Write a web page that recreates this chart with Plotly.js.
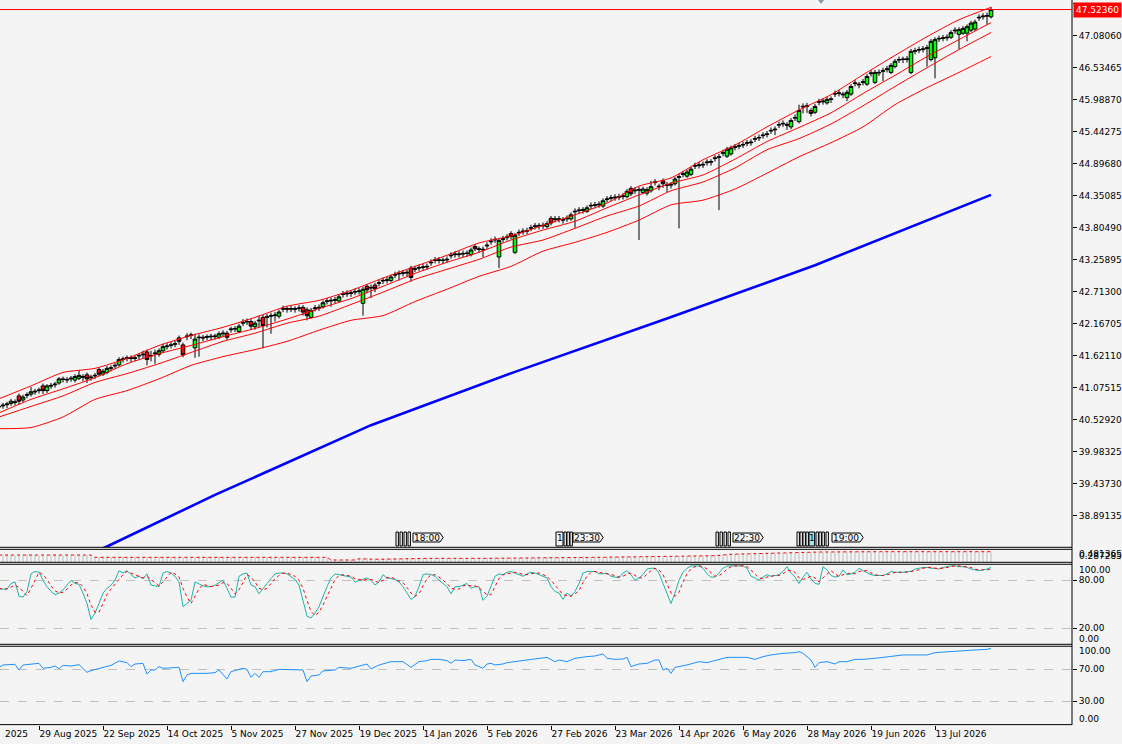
<!DOCTYPE html>
<html><head><meta charset="utf-8">
<script src="https://cdn.plot.ly/plotly-3.0.1.min.js"></script>
<style>html,body{margin:0;padding:0;background:#f4f4f4;} #chart{width:1122px;height:744px;}</style>
</head><body><div id="chart"></div>
<script>
const tickDates = ["29 Aug 2025","22 Sep 2025","14 Oct 2025","5 Nov 2025","27 Nov 2025","19 Dec 2025","14 Jan 2026","5 Feb 2026","27 Feb 2026","23 Mar 2026","14 Apr 2026","6 May 2026","28 May 2026","19 Jun 2026","13 Jul 2026"];
const tickBars = [10,26,42,58,74,90,106,122,138,154,170,186,202,218,234];
const priceTicks = [47.62655,47.08060,46.53465,45.98870,45.44275,44.89680,44.35085,43.80490,43.25895,42.71300,42.16705,41.62110,41.07515,40.52920,39.98325,39.43730,38.89135];

const open = [
40.74,40.76,40.78,40.80,40.83,40.93,40.86,40.94,40.96,41.01,
41.02,41.10,41.02,41.11,41.12,41.15,41.22,41.20,41.22,41.20,
41.23,41.26,41.29,41.24,41.27,41.38,41.30,41.33,41.40,41.44,
41.46,41.55,41.57,41.58,41.57,41.61,41.63,41.68,41.61,41.65,
41.64,41.70,41.77,41.79,41.81,41.92,41.80,41.94,41.96,41.75,
41.92,41.93,41.93,41.95,41.94,41.93,41.99,42.00,42.06,42.07,
42.03,42.17,42.19,42.20,42.11,42.21,42.27,42.27,42.29,42.30,
42.29,42.41,42.42,42.41,42.42,42.42,42.44,42.40,42.27,42.42,
42.43,42.45,42.54,42.55,42.56,42.55,42.66,42.67,42.69,42.70,
42.71,42.51,42.80,42.77,42.82,42.85,42.89,42.90,42.90,42.99,
43.01,43.02,43.04,43.11,43.09,43.11,43.12,43.13,43.20,43.24,
43.24,43.25,43.25,43.32,43.34,43.34,43.35,43.37,43.34,43.48,
43.44,43.42,43.49,43.56,43.59,43.30,43.60,43.63,43.70,43.38,
43.71,43.73,43.74,43.79,43.82,43.84,43.83,43.82,43.96,43.94,
43.94,43.94,43.95,43.95,44.07,44.09,44.11,44.08,44.17,44.18,
44.19,44.17,44.28,44.30,44.31,44.32,44.33,44.33,44.47,44.43,
44.44,44.40,44.39,44.43,44.57,44.51,44.60,44.52,44.54,44.55,
44.66,44.71,44.68,44.71,44.85,44.86,44.87,44.91,44.93,44.98,
45.00,45.07,45.02,45.06,45.17,45.19,45.21,45.24,45.25,45.31,
45.33,45.37,45.39,45.45,45.47,45.55,45.57,45.56,45.52,45.67,
45.61,45.86,45.87,45.80,45.77,45.94,45.95,45.93,46.00,46.08,
46.09,46.08,46.02,46.08,46.26,46.25,46.28,46.25,46.43,46.28,
46.44,46.47,46.50,46.45,46.55,46.66,46.68,46.67,46.45,46.81,
46.83,46.84,46.86,46.67,46.70,47.02,47.03,47.04,47.05,47.16,
47.10,47.12,47.12,47.17,47.19,47.38,47.40,47.41,47.40];
const high = [
40.79,40.81,40.83,40.88,40.87,40.97,40.95,40.99,41.08,41.05,
41.07,41.14,41.13,41.15,41.17,41.25,41.26,41.25,41.27,41.30,
41.37,41.30,41.33,41.29,41.32,41.41,41.39,41.44,41.45,41.49,
41.59,41.60,41.62,41.62,41.62,41.66,41.70,41.72,41.70,41.72,
41.74,41.82,41.83,41.85,41.87,41.96,41.84,42.00,42.01,41.99,
41.98,41.97,41.98,41.99,41.99,42.03,42.05,42.04,42.11,42.12,
42.16,42.24,42.25,42.24,42.21,42.30,42.31,42.33,42.35,42.36,
42.40,42.47,42.46,42.47,42.46,42.48,42.48,42.44,42.43,42.48,
42.49,42.56,42.60,42.61,42.62,42.66,42.72,42.73,42.73,42.76,
42.77,42.79,42.84,42.83,42.86,42.91,42.95,42.96,43.00,43.05,
43.07,43.08,43.08,43.15,43.15,43.17,43.18,43.19,43.26,43.30,
43.30,43.29,43.31,43.38,43.40,43.40,43.41,43.41,43.46,43.52,
43.48,43.48,43.55,43.62,43.65,43.62,43.66,43.69,43.74,43.71,
43.77,43.79,43.80,43.85,43.88,43.88,43.89,43.91,44.00,44.00,
44.00,43.98,44.01,44.06,44.13,44.15,44.15,44.18,44.23,44.24,
44.25,44.30,44.34,44.36,44.37,44.38,44.39,44.46,44.51,44.49,
44.50,44.50,44.49,44.60,44.63,44.55,44.64,44.58,44.58,44.67,
44.72,44.77,44.79,44.84,44.91,44.92,44.93,44.97,44.97,45.04,
45.06,45.13,45.18,45.20,45.23,45.25,45.27,45.30,45.31,45.37,
45.39,45.43,45.45,45.51,45.53,45.61,45.63,45.60,45.67,45.73,
45.90,45.92,45.93,45.84,45.91,46.00,46.01,46.03,46.04,46.14,
46.15,46.12,46.15,46.25,46.32,46.29,46.34,46.42,46.49,46.49,
46.50,46.53,46.56,46.61,46.68,46.72,46.72,46.73,46.85,46.87,
46.89,46.90,46.92,47.02,47.05,47.08,47.09,47.10,47.17,47.22,
47.22,47.24,47.27,47.33,47.35,47.44,47.46,47.47,47.57];
const low = [
40.69,40.71,40.72,40.76,40.77,40.78,40.82,40.89,40.92,40.95,
40.97,40.96,40.98,41.05,41.07,41.12,41.16,41.15,41.17,41.16,
41.20,41.18,41.15,41.19,41.22,41.26,41.27,41.30,41.35,41.39,
41.43,41.50,41.52,41.51,41.52,41.55,41.57,41.45,41.52,41.48,
41.60,41.66,41.72,41.74,41.76,41.80,41.59,41.88,41.90,41.58,
41.60,41.86,41.88,41.88,41.89,41.90,41.94,41.88,42.01,42.02,
42.00,42.12,42.14,42.06,42.06,42.10,41.74,42.10,41.99,42.20,
42.25,42.36,42.35,42.36,42.35,42.37,42.30,42.22,42.25,42.37,
42.38,42.42,42.49,42.45,42.51,42.52,42.61,42.62,42.62,42.65,
42.66,42.30,42.68,42.60,42.70,42.80,42.84,42.85,42.87,42.94,
42.90,42.97,42.97,42.88,43.04,43.06,43.07,43.08,43.15,43.19,
43.19,43.18,43.20,43.27,43.29,43.29,43.30,43.30,43.31,43.40,
43.37,43.30,43.44,43.51,43.54,43.11,43.55,43.58,43.60,43.35,
43.66,43.68,43.69,43.74,43.77,43.77,43.78,43.79,43.84,43.89,
43.89,43.87,43.90,43.92,43.80,44.04,44.04,44.05,44.12,44.13,
44.14,44.14,44.23,44.25,44.26,44.27,44.28,44.30,44.34,44.38,
43.59,44.37,44.35,44.40,44.52,44.44,44.48,44.41,44.47,44.52,
43.79,44.66,44.65,44.68,44.80,44.81,44.82,44.86,44.86,44.93,
44.10,45.02,44.99,45.03,45.12,45.14,45.16,45.19,45.20,45.26,
45.28,45.32,45.34,45.40,45.38,45.50,45.52,45.47,45.48,45.62,
45.58,45.75,45.76,45.70,45.74,45.89,45.90,45.90,45.93,46.03,
46.04,46.01,45.96,46.05,46.21,46.18,46.23,46.22,46.38,46.25,
46.39,46.30,46.45,46.42,46.52,46.61,46.61,46.62,46.42,46.76,
46.78,46.79,46.55,46.64,46.35,46.97,46.98,46.99,47.02,47.11,
46.85,47.09,46.98,47.14,47.16,47.33,47.35,47.27,47.37];
const close = [
40.75,40.77,40.79,40.84,40.82,40.84,40.91,40.95,41.00,41.00,
41.03,41.02,41.10,41.10,41.13,41.22,41.21,41.21,41.23,41.26,
41.28,41.25,41.22,41.25,41.28,41.30,41.35,41.40,41.41,41.45,
41.55,41.56,41.58,41.57,41.58,41.62,41.64,41.55,41.62,41.66,
41.70,41.77,41.78,41.80,41.82,41.86,41.63,41.95,41.97,41.90,
41.93,41.92,41.94,41.94,41.95,41.99,42.00,41.93,42.07,42.08,
42.12,42.18,42.20,42.12,42.17,42.22,42.13,42.28,42.30,42.31,
42.36,42.42,42.41,42.42,42.41,42.43,42.36,42.30,42.39,42.43,
42.44,42.52,42.55,42.56,42.57,42.62,42.67,42.68,42.68,42.71,
42.72,42.75,42.74,42.78,42.76,42.86,42.90,42.91,42.96,43.00,
43.02,43.03,43.03,42.95,43.10,43.12,43.13,43.14,43.21,43.25,
43.25,43.24,43.26,43.33,43.35,43.35,43.36,43.36,43.42,43.44,
43.43,43.43,43.50,43.57,43.60,43.58,43.61,43.64,43.65,43.67,
43.72,43.74,43.75,43.80,43.83,43.83,43.84,43.87,43.88,43.95,
43.95,43.93,43.96,44.02,44.08,44.10,44.10,44.14,44.18,44.19,
44.20,44.26,44.29,44.31,44.32,44.33,44.34,44.42,44.38,44.44,
44.45,44.46,44.45,44.50,44.58,44.50,44.55,44.53,44.53,44.63,
44.67,44.72,44.75,44.80,44.86,44.87,44.88,44.92,44.92,44.99,
45.01,45.08,45.14,45.16,45.18,45.20,45.22,45.25,45.26,45.32,
45.34,45.38,45.40,45.46,45.48,45.56,45.58,45.55,45.63,45.68,
45.80,45.87,45.88,45.75,45.87,45.95,45.96,45.99,45.99,46.09,
46.10,46.07,46.11,46.21,46.27,46.24,46.29,46.38,46.44,46.45,
46.45,46.48,46.51,46.57,46.64,46.67,46.67,46.68,46.81,46.82,
46.84,46.85,46.87,46.98,47.01,47.03,47.04,47.05,47.13,47.17,
47.18,47.20,47.23,47.29,47.31,47.39,47.41,47.42,47.5236];

const bandIdx = [0,8,16,24,32,40,48,56,64,72,80,88,96,104,112,120,128,136,144,152,160,168,176,184,192,200,208,216,224,232,240,248];
const bandUpper = [40.88,41.10,41.33,41.40,41.57,41.79,41.96,42.10,42.27,42.46,42.56,42.73,42.94,43.14,43.33,43.54,43.66,43.84,44.02,44.22,44.51,44.65,44.96,45.21,45.52,45.81,46.07,46.41,46.74,47.06,47.35,47.56];
const bandMid = [40.64,40.87,41.05,41.24,41.48,41.65,41.79,41.94,42.08,42.24,42.42,42.59,42.80,43.02,43.21,43.38,43.59,43.76,43.91,44.14,44.36,44.56,44.70,44.97,45.27,45.51,45.76,46.09,46.40,46.72,47.01,47.30];
const bandLower = [40.57,40.75,40.93,41.16,41.31,41.48,41.67,41.86,42.00,42.17,42.29,42.49,42.70,42.92,43.09,43.26,43.47,43.59,43.79,44.00,44.17,44.43,44.58,44.82,45.13,45.32,45.57,45.88,46.21,46.53,46.84,47.13];
const maSlow = [40.37,40.39,40.57,40.87,41.02,41.22,41.45,41.60,41.72,41.86,42.05,42.22,42.30,42.54,42.75,42.97,43.14,43.40,43.55,43.72,43.93,44.19,44.27,44.46,44.73,45.01,45.25,45.52,45.90,46.19,46.45,46.72];

const maLongIdx = [0,27,54,93,129,167,204,248];
const maLongVal = [37.52,38.36,39.24,40.43,41.34,42.25,43.16,44.36];

const histVals = [
0.40,0.40,0.41,0.40,0.39,0.40,0.40,0.41,0.40,0.40,0.39,0.40,0.40,0.40,0.41,0.40,0.39,0.40,0.40,0.40,0.40,0.39,0.40,0.39,
0.37,0.36,0.37,0.37,0.36,0.37,0.37,0.37,0.36,0.37,0.37,0.36,0.37,0.37,0.37,0.36,0.37,0.37,0.36,0.37,
0.37,0.37,0.36,0.37,0.37,0.36,0.37,0.37,0.37,0.36,0.37,0.37,0.36,0.37,0.37,0.37,0.36,0.37,0.37,0.36,
0.37,0.37,0.37,0.36,0.37,0.37,0.36,0.37,0.37,0.37,0.36,0.37,0.37,0.36,0.37,0.37,0.37,0.36,0.37,
0.33,0.33,0.32,0.33,0.33,0.32,0.33,
0.35,0.34,0.35,0.34,0.34,0.34,0.35,0.35,0.35,0.35,0.35,0.35,0.35,0.36,0.35,0.35,0.35,0.35,0.35,0.35,
0.35,0.36,0.35,0.35,0.35,0.35,0.35,0.35,0.36,0.35,0.35,0.35,0.35,0.35,0.36,0.35,
0.36,0.36,0.36,0.35,0.36,0.36,0.36,0.36,0.36,0.37,0.36,0.36,0.36,0.36,0.36,0.37,0.36,0.36,0.36,0.36,0.37,0.36,0.36,0.37,0.37,
0.37,0.37,0.37,0.37,0.37,0.38,0.37,0.37,0.37,0.37,0.37,0.37,0.38,0.37,0.37,0.37,0.38,0.37,0.38,0.38,
0.38,0.38,0.39,0.39,0.39,0.39,0.39,0.40,0.40,0.40,0.41,0.41,
0.42,0.42,0.42,0.42,0.42,0.43,0.43,0.43,0.43,0.43,0.43,0.43,0.43,0.43,0.43,0.43,0.43,0.44,0.44,0.44,0.44,0.44,
0.45,0.45,0.45,0.44,0.45,0.45,0.45,0.45,0.46,0.45,0.45,0.45,0.45,0.45,0.45,0.44,0.45,0.45,0.45,0.45,
0.45,0.45,0.46,0.45,0.45,0.45,0.45,0.45,0.45,0.45,0.44,0.45,0.45,0.45,0.45,0.45,0.45,0.46,0.45,0.45,0.45,0.45,0.45,0.45];
const histLineIdx = [0,23,24,82,83,89,90,95,108,123,150,170,174,179,183,189,200,205,220,248];
const histLineVal = [0.396,0.396,0.362,0.362,0.322,0.322,0.34,0.332,0.347,0.347,0.362,0.371,0.381,0.386,0.407,0.416,0.426,0.441,0.446,0.446];

const stochMain = [
69,69,69,76,78,60,59,66,88,91, 90,80,72,66,62,64,68,74,80,76,
75,64,51,31,39,51,64,70,74,80, 92,89,92,87,83,85,82,88,74,73,
72,89,91,89,85,78,47,51,55,78, 75,73,72,72,74,77,80,70,59,59,
85,88,89,74,72,63,70,76,82,88, 89,89,88,85,81,74,55,35,33,39,
47,60,72,83,88,87,86,85,84,78, 80,81,83,80,74,78,87,83,82,81,
78,72,64,56,60,72,87,88,87,85, 80,76,72,63,72,72,74,76,70,72,
72,55,60,72,85,88,87,90,91,89, 87,85,88,90,89,87,85,83,72,66,
64,56,64,60,66,76,89,91,91,91, 88,88,89,85,84,83,89,92,87,80,
83,87,94,95,95,89,76,64,51,64, 80,90,95,98,98,98,95,88,84,84,
89,95,98,98,98,98,98,95,85,83, 80,84,87,85,86,87,91,97,89,84,
76,84,90,82,76,75,97,93,86,84, 85,93,87,88,90,95,92,89,87,86,
86,86,88,91,90,90,90,91,91,94, 95,96,96,95,95,94,96,97,98,98,
97,97,96,94,93,92,93,94,96];
const stochSignal = [
70,69,69,71,74,71,66,61,70,81, 90,87,81,73,67,64,65,69,74,77,
77,72,63,49,40,40,51,62,69,75, 82,87,91,89,87,85,83,85,81,78,
73,78,84,90,88,84,70,59,51,61, 69,75,73,72,73,74,77,76,70,63,
68,77,87,84,78,70,68,70,76,82, 86,89,89,87,85,80,70,55,41,36,
40,49,60,72,81,86,87,86,85,82, 81,80,81,81,79,77,80,83,84,82,
80,77,71,64,60,63,73,82,87,87, 84,80,76,70,69,69,73,74,73,73,
71,66,62,62,72,82,87,88,89,90, 89,87,87,88,89,89,87,85,80,74,
67,62,61,60,63,67,77,85,90,91, 90,89,88,87,86,84,85,88,89,86,
83,83,88,92,95,93,87,76,64,60, 65,78,88,94,97,98,97,94,89,85,
86,89,94,97,98,98,98,97,93,88, 83,82,84,85,86,86,88,92,92,90,
83,81,83,85,83,78,83,88,92,88, 85,87,88,89,88,91,92,92,89,87,
86,86,87,88,90,90,90,90,91,92, 93,95,96,96,95,95,95,96,97,98,
98,97,97,96,94,93,93,93,94];

const rsiPoints = [[0,72.4],[1,75.4],[4,76.2],[5,69.1],[6,75.4],[9,76.2],[10,77.4],[11,71.2],[13,72.4],[14,74.1],[15,70.8],[16,74.9],[18,74.1],[20,75.8],[22,66.2],[23,68.3],[25,71.2],[28,74.9],[30,80.4],[32,78.3],[33,73.3],[34,76.6],[36,77.4],[37,64.1],[38,69.1],[39,69.1],[40,73.3],[41,71.2],[45,72.4],[46,54.5],[47,62.9],[48,64.9],[52,64.9],[54,65.8],[55,69.1],[57,57.9],[58,67],[61,71.2],[62,69.9],[63,59.9],[64,64.9],[65,59.9],[66,67],[68,67],[70,69.9],[73,69.1],[76,69.1],[77,54.5],[78,61.6],[80,62.9],[81,67.9],[84,69.1],[85,72.4],[88,71.2],[90,74.1],[92,76.6],[93,70.4],[95,75.4],[98,79.5],[101,79.5],[103,72.4],[105,79.5],[107,80.8],[108,82.4],[110,82.4],[112,80.8],[113,77.4],[114,81.6],[116,80.8],[118,82.4],[119,75.4],[121,71.2],[122,76.6],[123,77.4],[124,75.4],[126,76.6],[127,78.3],[129,79.5],[132,81.6],[135,83.7],[137,84.9],[139,79.5],[140,81.6],[142,79.5],[144,83.7],[147,85.8],[149,86.6],[151,89.1],[152,83.7],[154,82.4],[156,82.8],[157,84.9],[158,73.3],[160,76.6],[162,77.4],[164,81.6],[165,81.6],[166,69.1],[167,71.2],[168,64.9],[169,72.4],[172,75.4],[175,79.5],[177,78.3],[180,82.8],[182,84.9],[185,84.9],[187,84.9],[189,82.4],[191,85.8],[193,87.9],[196,89.9],[199,90.8],[200,92.0],[201,89.9],[203,81.6],[204,72.4],[205,78.3],[207,79.5],[209,76.6],[210,79.5],[212,79.5],[214,82.4],[216,82.4],[219,83.7],[222,85.8],[226,87.9],[229,87.9],[232,87.9],[234,90.8],[237,92.0],[241,93.3],[244,94.1],[247,94.9],[248,96.2]];

const events = [
  {marks:[99.25,100.25,101.25,102.25], ones:[], label:"18:00", l0:103.5, l1:110.25},
  {marks:[141.25,142.0,142.75], ones:[{x0:139.25,x1:141.0,hl:false}], label:"23:30", l0:143.5, l1:150.25},
  {marks:[179.25,180.25,181.25,182.25], ones:[], label:"22:30", l0:183.5, l1:190.25},
  {marks:[199.5,200.25,201.0,201.75,204.25,205.0,205.75,206.75], ones:[{x0:202.5,x1:203.9,hl:true}], label:"19:00", l0:208.25, l1:215.25}
];

const bars = close.map((_, i) => i);
const lastPrice = close[close.length - 1];
const FONT = 'DejaVu Sans, Liberation Sans, sans-serif';

const traces = [
  {type:'bar', x:bars, y:histVals, xaxis:'x', yaxis:'y2', width:0.3, marker:{color:'#c4c4c4', line:{width:0}}, hoverinfo:'skip'},
  {type:'scatter', mode:'lines', x:histLineIdx, y:histLineVal, xaxis:'x', yaxis:'y2', line:{color:'#ff0000', width:1, dash:'3px,3px'}},
  {type:'scatter', mode:'lines', x:bars, y:stochMain, xaxis:'x', yaxis:'y3', line:{color:'#20b2aa', width:1}},
  {type:'scatter', mode:'lines', x:bars, y:stochSignal, xaxis:'x', yaxis:'y3', line:{color:'#ff0000', width:1, dash:'3px,3px'}},
  {type:'scatter', mode:'lines', x:rsiPoints.map(p=>p[0]), y:rsiPoints.map(p=>p[1]), xaxis:'x', yaxis:'y4', line:{color:'#1e90ff', width:1}},
  {type:'scatter', mode:'lines', x:maLongIdx, y:maLongVal, xaxis:'x', yaxis:'y', line:{color:'#0000ff', width:2.6}},
  {type:'scatter', mode:'lines', x:bandIdx, y:maSlow, xaxis:'x', yaxis:'y', line:{color:'#ff0000', width:1, shape:'spline', smoothing:0.6}},
  {type:'scatter', mode:'lines', x:bandIdx, y:bandLower, xaxis:'x', yaxis:'y', line:{color:'#ff0000', width:1, shape:'spline', smoothing:0.6}},
  {type:'scatter', mode:'lines', x:bandIdx, y:bandMid, xaxis:'x', yaxis:'y', line:{color:'#ff0000', width:1, shape:'spline', smoothing:0.6}},
  {type:'scatter', mode:'lines', x:bandIdx, y:bandUpper, xaxis:'x', yaxis:'y', line:{color:'#ff0000', width:1, shape:'spline', smoothing:0.6}},
  {type:'candlestick', x:bars, open:open, high:high, low:low, close:close, xaxis:'x', yaxis:'y', whiskerwidth:0,
   increasing:{line:{color:'#000000', width:1}, fillcolor:'#00ff00'},
   decreasing:{line:{color:'#000000', width:1}, fillcolor:'#ff0000'}}
];

const sepY = [0.2451, 0.2423, 0.2244, 0.2217, 0.1113, 0.1086, 0.0005];
const shapes = sepY.map(y => ({type:'line', xref:'paper', yref:'paper', x0:0, x1:1, y0:y, y1:y, line:{color:'#000', width:1}}));
shapes.push({type:'line', xref:'paper', yref:'paper', x0:1, x1:1, y0:0, y1:1, line:{color:'#000', width:1}});
shapes.push({type:'line', xref:'paper', yref:'y', x0:0, x1:1, y0:lastPrice, y1:lastPrice, line:{color:'#ff0000', width:1}});
shapes.push({type:'path', xref:'paper', yref:'paper', path:'M 0.7631 1 L 0.7687 1 L 0.7659 0.9945 Z', fillcolor:'#8a9aae', line:{width:0}});

const annotations = [];
const evY0 = 0.2469, evY1 = 0.2662, lbY0 = 0.2524, lbY1 = 0.2648, lbYm = 0.2586;
events.forEach(ev => {
  ev.marks.forEach(m => shapes.push({type:'rect', xref:'x', yref:'paper', x0:m, x1:m+0.6, y0:evY0, y1:evY1, fillcolor:'#f4f4f4', line:{color:'#000', width:1}}));
  ev.ones.forEach(o => {
    shapes.push({type:'rect', xref:'x', yref:'paper', x0:o.x0, x1:o.x1, y0:evY0, y1:evY1, fillcolor:o.hl ? '#a8e4ec' : '#f4f4f4', line:{color:'#000', width:1}});
    annotations.push({x:(o.x0+o.x1)/2, xref:'x', xanchor:'center', y:lbYm, yref:'paper', yanchor:'middle', text:'1', showarrow:false, font:{family:FONT, size:9, color:'#000'}});
  });
  shapes.push({type:'path', xref:'x', yref:'paper', path:`M ${ev.l0},${lbY0} L ${ev.l1},${lbY0} L ${ev.l1+0.8},${lbYm} L ${ev.l1},${lbY1} L ${ev.l0},${lbY1} Z`, fillcolor:'#f4f4f4', line:{color:'#000', width:1}});
  annotations.push({x:(ev.l0+ev.l1)/2, xref:'x', xanchor:'center', y:lbYm, yref:'paper', yanchor:'middle', text:ev.label, showarrow:false, font:{family:FONT, size:9, color:'#000'}});
});

annotations.push({x:1, xref:'paper', xanchor:'left', xshift:1, y:lastPrice, yref:'y', yanchor:'middle', text:lastPrice.toFixed(5), showarrow:false, bgcolor:'#ff0000', font:{family:FONT, size:9, color:'#ffffff'}, borderpad:2});
function pxY(p){ return 1 - p/725; }
[['0.481365',554.2],['0.287285',555.6],['100.00',570],['0.00',638.7],['100.00',651],['0.00',718.7]].forEach(a => {
  annotations.push({x:1, xref:'paper', xanchor:'left', xshift:5, y:pxY(a[1]), yref:'paper', yanchor:'middle', text:a[0], showarrow:false, font:{family:FONT, size:9, color:'#000'}});
});
annotations.push({x:0, xref:'paper', xanchor:'left', xshift:3, y:pxY(734), yref:'paper', yanchor:'middle', text:'2025', showarrow:false, font:{family:FONT, size:9, color:'#000'}});

const layout = {
  width:1122, height:744,
  margin:{l:0, r:50, t:0, b:19, pad:0},
  paper_bgcolor:'#f4f4f4', plot_bgcolor:'#f4f4f4',
  showlegend:false, dragmode:false,
  font:{family:FONT, size:9, color:'#000'},
  xaxis:{domain:[0,1], anchor:'y4', range:[0.25,268.25], tickvals:tickBars, ticktext:tickDates, tickangle:0, ticks:'outside', ticklen:4, tickcolor:'#000', ticklabelposition:'outside right', showgrid:false, zeroline:false, showline:false, rangeslider:{visible:false}, tickfont:{family:FONT, size:9}},
  yaxis:{domain:[0.2451,1], range:[38.346,47.686], side:'right', anchor:'x', tickvals:priceTicks, ticktext:priceTicks.map(v=>v.toFixed(5)), ticks:'outside', ticklen:4, tickcolor:'#000', showgrid:false, zeroline:false, showline:false},
  yaxis2:{domain:[0.2244,0.2423], range:[0.287285,0.481365], side:'right', anchor:'x', showticklabels:false, ticks:'', showgrid:false, zeroline:false, showline:false},
  yaxis3:{domain:[0.1113,0.2217], range:[0,100], side:'right', anchor:'x', tickvals:[80,20], ticktext:['80.00','20.00'], ticks:'outside', ticklen:4, tickcolor:'#000', showgrid:true, gridcolor:'#c0c0c0', griddash:'dash', gridwidth:1, zeroline:false, showline:false},
  yaxis4:{domain:[0,0.1086], range:[0.375,98.75], side:'right', anchor:'x', tickvals:[70,30], ticktext:['70.00','30.00'], ticks:'outside', ticklen:4, tickcolor:'#000', showgrid:true, gridcolor:'#c0c0c0', griddash:'dash', gridwidth:1, zeroline:false, showline:false},
  boxgap:0.1, boxgroupgap:0,
  shapes:shapes,
  annotations:annotations
};

Plotly.newPlot('chart', traces, layout, {staticPlot:true, displayModeBar:false});
</script>
</body></html>
